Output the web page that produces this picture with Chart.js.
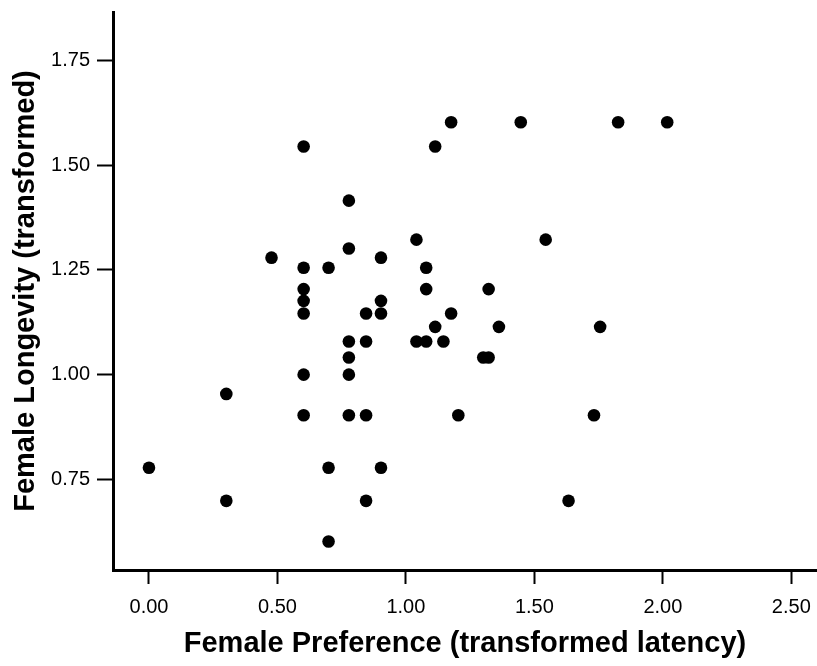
<!DOCTYPE html>
<html>
<head>
<meta charset="utf-8">
<script src="https://cdn.jsdelivr.net/npm/chart.js@4.4.1/dist/chart.umd.min.js"></script>
<style>
  body { margin: 0; background: #fff; }
</style>
</head>
<body>
<canvas id="scatterChart" width="817" height="666"></canvas>
<script>
// data (log-transformed values)
var preference = [0.000, 0.301, 0.301, 0.477, 0.602, 0.602, 0.602, 0.602, 0.602, 0.602,
                  0.602, 0.699, 0.699, 0.699, 0.778, 0.778, 0.778, 0.778, 0.778, 0.778,
                  0.845, 0.845, 0.845, 0.845, 0.903, 0.903, 0.903, 0.903, 1.041, 1.041,
                  1.079, 1.079, 1.079, 1.114, 1.114, 1.146, 1.176, 1.176, 1.204, 1.301,
                  1.322, 1.322, 1.362, 1.447, 1.544, 1.633, 1.732, 1.756, 1.826, 2.017];
var longevity  = [0.778, 0.699, 0.954, 1.279, 1.544, 1.255, 1.204, 1.176, 1.146, 1.000,
                  0.903, 1.255, 0.778, 0.602, 1.415, 1.301, 1.079, 1.041, 1.000, 0.903,
                  0.903, 1.146, 1.079, 0.699, 1.279, 1.176, 1.146, 0.778, 1.322, 1.079,
                  1.255, 1.204, 1.079, 1.114, 1.544, 1.079, 1.602, 1.146, 0.903, 1.041,
                  1.041, 1.204, 1.114, 1.602, 1.322, 0.699, 0.903, 1.114, 1.602, 1.602];

var xTicks = [0, 0.5, 1.0, 1.5, 2.0, 2.5];
var yTicks = [0.75, 1.0, 1.25, 1.5, 1.75];

var points = preference.map(function (v, i) { return { x: v, y: longevity[i] }; });

var ctx = document.getElementById('scatterChart').getContext('2d');
var chart = new Chart(ctx, {
    type: 'scatter',
    data: {
        datasets: [{
            data: points,
            backgroundColor: '#000',
            borderWidth: 0,
            pointRadius: 6.3,
            pointHoverRadius: 6.3
        }]
    },
    options: {
        responsive: false,
        animation: false,
        layout: { autoPadding: false, padding: { top: 12, right: 0, left: 0, bottom: 0 } },
        plugins: { legend: { display: false }, tooltip: { enabled: false } },
        scales: {
            x: {
                type: 'linear',
                min: -0.14,
                max: 2.6,
                afterBuildTicks: function (axis) { axis.ticks = xTicks.map(function (v) { return { value: v }; }); },
                afterFit: function (axis) {
                    axis.height = 96;
                    axis.paddingLeft = 0;
                    axis.paddingRight = 0;
                },
                border: { display: true, color: '#000', width: 3 },
                grid: { drawOnChartArea: false, drawTicks: true, tickLength: 14, tickWidth: 2, tickColor: '#000' },
                ticks: {
                    color: '#000',
                    padding: 11,
                    maxRotation: 0,
                    font: { family: 'Liberation Sans, Arial, sans-serif', size: 20 },
                    callback: function (v) { return Number(v).toFixed(2); }
                },
                title: {
                    display: true,
                    text: 'Female Preference (transformed latency)',
                    color: '#000',
                    padding: { top: 4, bottom: 5 },
                    font: { family: 'Liberation Sans, Arial, sans-serif', size: 29, weight: 'bold' }
                }
            },
            y: {
                type: 'linear',
                min: 0.534,
                max: 1.865,
                afterBuildTicks: function (axis) { axis.ticks = yTicks.map(function (v) { return { value: v }; }); },
                afterFit: function (axis) {
                    axis.width = 113;
                    axis.paddingTop = 0;
                    axis.paddingBottom = 0;
                },
                border: { display: true, color: '#000', width: 3 },
                grid: { drawOnChartArea: false, drawTicks: true, tickLength: 16, tickWidth: 2, tickColor: '#000' },
                ticks: {
                    color: '#000',
                    padding: 7,
                    font: { family: 'Liberation Sans, Arial, sans-serif', size: 20 },
                    callback: function (v) { return Number(v).toFixed(2); }
                },
                title: {
                    display: true,
                    text: 'Female Longevity (transformed)',
                    color: '#000',
                    padding: { top: 9, bottom: 4 },
                    font: { family: 'Liberation Sans, Arial, sans-serif', size: 29, weight: 'bold' }
                }
            }
        }
    }
});
</script>
</body>
</html>
